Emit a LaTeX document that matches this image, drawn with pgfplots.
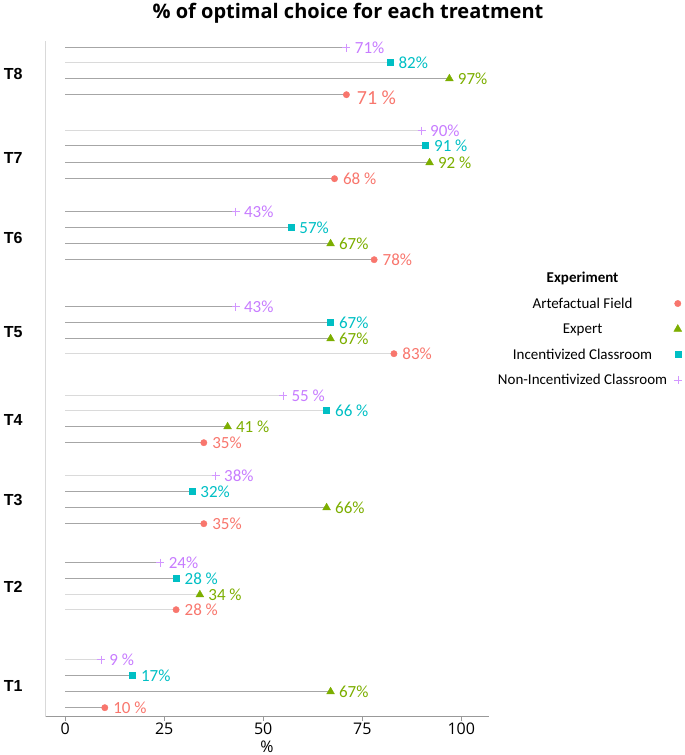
\documentclass[border=0pt]{standalone}
\usepackage{pgfplots}
\usepackage{pgfplotstable}
\pgfplotsset{compat=1.18}
\usepackage{fontspec}
\setmainfont{Carlito}
\newfontfamily\arialfont{Liberation Sans}
\newfontfamily\opensans{Open Sans}
\definecolor{afcol}{HTML}{F8766D}
\definecolor{excol}{HTML}{7CAE00}
\definecolor{iccol}{HTML}{00BFC4}
\definecolor{nicol}{HTML}{C77CFF}
\definecolor{darkline}{HTML}{A6A6A6}
\definecolor{lightline}{HTML}{DADADA}

% y = row position, v = percent, lt = 1 for light stem, sp = 1 for a space before %, bg = 1 for a larger label
\pgfplotstableread{
y v lt sp bg
622 71 0 1 1
538 68 0 1 0
457 78 0 0 0
363 83 1 0 0
274 35 0 0 0
193 35 0 0 0
107 28 1 1 0
9 10 0 1 0
}\tabAF
\pgfplotstableread{
y v lt sp
638 97 0 0
554 92 0 1
473 67 0 0
378 67 0 0
290 41 0 1
209 66 0 0
122 34 1 1
25 67 0 0
}\tabEX
\pgfplotstableread{
y v lt sp
654 82 1 0
571 91 0 1
489 57 0 0
394 67 0 0
306 66 1 1
225 32 0 0
138 28 0 1
41 17 0 0
}\tabIC
\pgfplotstableread{
y v lt sp
669 71 0 0
586 90 1 0
505 43 0 0
410 43 0 0
321 55 1 1
241 38 1 0
154 24 0 0
57 9 1 1
}\tabNI

\pgfplotsset{
  stemdark/.style={xcomb, forget plot, mark=none, draw=darkline, line width=0.9pt,
    restrict y to domain=-10:700},
  stemlight/.style={xcomb, forget plot, mark=none, draw=lightline, line width=1.4pt,
    restrict y to domain=-10:700},
  lbl/.style={only marks, forget plot, mark=none, point meta=x,
    restrict y to domain=-10:700,
    nodes near coords style={anchor=west, font=\fontsize{17}{17}\selectfont, text=#1, xshift=5pt}},
  lblnosp/.style={lbl=#1, nodes near coords={\pgfmathprintnumber{\pgfplotspointmeta}\%}},
  lblsp/.style={lbl=#1, nodes near coords={\pgfmathprintnumber{\pgfplotspointmeta}\ \%}},
}

\begin{document}
\begin{tikzpicture}
\path[use as bounding box] (0,0) rectangle (685pt,755pt);
\begin{axis}[
  at={(45pt,38.3pt)}, anchor=south west,
  scale only axis, width=444pt, height=675.7pt,
  xmin=-5.1, xmax=107, ymin=0, ymax=675.7,
  axis x line*=bottom, axis y line*=left,
  x axis line style={draw=gray!80, -},
  y axis line style={draw=gray!30, -},
  xtick={0,25,50,75,100},
  tick align=outside,
  major tick length=4pt,
  x tick style={draw=gray!80},
  y tick style={draw=none},
  ytick={31,130,217,297,385,479,559,643},
  yticklabels={T1,T2,T3,T4,T5,T6,T7,T8},
  yticklabel style={font=\arialfont\bfseries\fontsize{16}{16}\selectfont, anchor=east, xshift=-15pt},
  /pgf/number format/assume math mode=true,
  xticklabel style={font=\opensans\fontsize{16}{16}\selectfont, yshift=1pt},
  xlabel={\%}, xlabel style={font=\opensans\fontsize{16}{16}\selectfont, yshift=1pt},
  clip=false,
  legend cell align=center,
  legend plot pos=right,
  legend style={draw=none, fill=none, font=\fontsize{15}{15}\selectfont,
    at={(1.4414,0.665)}, anchor=north east, row sep=10pt},
]
\addlegendimage{empty legend}
\addlegendentry{\textbf{Experiment}}

% stems: rows not in the class are moved out of the domain and dropped
\addplot[stemdark] table[x=v, y expr=\thisrow{y}+10000*\thisrow{lt}] {\tabAF};
\addplot[stemlight] table[x=v, y expr=\thisrow{y}+10000*(1-\thisrow{lt})] {\tabAF};
\addplot[stemdark] table[x=v, y expr=\thisrow{y}+10000*\thisrow{lt}] {\tabEX};
\addplot[stemlight] table[x=v, y expr=\thisrow{y}+10000*(1-\thisrow{lt})] {\tabEX};
\addplot[stemdark] table[x=v, y expr=\thisrow{y}+10000*\thisrow{lt}] {\tabIC};
\addplot[stemlight] table[x=v, y expr=\thisrow{y}+10000*(1-\thisrow{lt})] {\tabIC};
\addplot[stemdark] table[x=v, y expr=\thisrow{y}+10000*\thisrow{lt}] {\tabNI};
\addplot[stemlight] table[x=v, y expr=\thisrow{y}+10000*(1-\thisrow{lt})] {\tabNI};

% value labels
\addplot[lblnosp=afcol] table[x=v, y expr=\thisrow{y}+10000*\thisrow{sp}] {\tabAF};
\addplot[lblsp=afcol] table[x=v, y expr=\thisrow{y}+10000*(1-\thisrow{sp})+10000*\thisrow{bg}] {\tabAF};
\addplot[lblsp=afcol, nodes near coords style={font=\fontsize{20}{20}\selectfont, yshift=-3pt, xshift=2pt}]
  table[x=v, y expr=\thisrow{y}+10000*(1-\thisrow{bg})] {\tabAF};
\addplot[lblnosp=excol] table[x=v, y expr=\thisrow{y}+10000*\thisrow{sp}] {\tabEX};
\addplot[lblsp=excol] table[x=v, y expr=\thisrow{y}+10000*(1-\thisrow{sp})] {\tabEX};
\addplot[lblnosp=iccol] table[x=v, y expr=\thisrow{y}+10000*\thisrow{sp}] {\tabIC};
\addplot[lblsp=iccol] table[x=v, y expr=\thisrow{y}+10000*(1-\thisrow{sp})] {\tabIC};
\addplot[lblnosp=nicol] table[x=v, y expr=\thisrow{y}+10000*\thisrow{sp}] {\tabNI};
\addplot[lblsp=nicol] table[x=v, y expr=\thisrow{y}+10000*(1-\thisrow{sp})] {\tabNI};

\addplot[only marks, mark=*, mark size=3.2pt, color=afcol] table[x=v,y=y] {\tabAF};
\addlegendentry{Artefactual Field}
\addplot[only marks, mark=triangle*, mark size=4.5pt, color=excol] table[x=v,y=y] {\tabEX};
\addlegendentry{Expert}
\addplot[only marks, mark=square*, mark size=3pt, color=iccol] table[x=v,y=y] {\tabIC};
\addlegendentry{Incentivized Classroom}
\addplot[only marks, mark=+, mark size=4pt, color=nicol!80, line width=0.5pt] table[x=v,y=y] {\tabNI};
\addlegendentry{Non-Incentivized Classroom}
\end{axis}
\node at (348pt,742pt) {\opensans\bfseries\fontsize{20}{20}\selectfont \% of optimal choice for each treatment};
\end{tikzpicture}
\end{document}
